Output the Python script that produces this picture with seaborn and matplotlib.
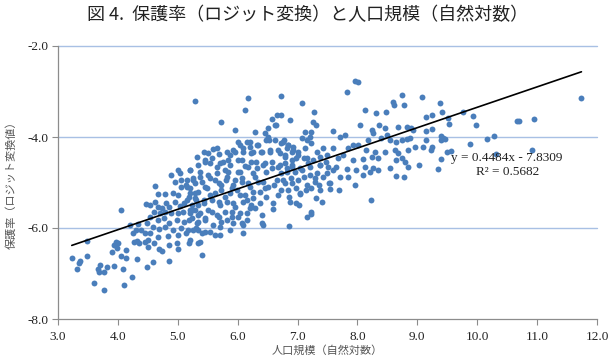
import numpy as np
import pandas as pd
import matplotlib.pyplot as plt
import seaborn as sns

# points (x = ln population, y = logit of protection rate), grouped by x band
band_3 = [(3.23, -6.67), (3.35, -6.77), (3.37, -6.72), (3.32, -6.91), (3.49, -6.29), (3.49, -6.61),
          (3.60, -7.21), (3.66, -6.91), (3.68, -6.96), (3.70, -6.81), (3.77, -6.97), (3.82, -6.86),
          (3.77, -7.36), (3.90, -6.52), (3.93, -6.83), (3.97, -6.30), (3.93, -6.37), (3.99, -6.45)]
band_4 = [(4.01, -6.34), (4.05, -5.61), (4.06, -6.62), (4.09, -6.90), (4.11, -7.25), (4.14, -6.65),
          (4.14, -6.48), (4.20, -5.93), (4.24, -7.07), (4.25, -6.12), (4.27, -6.30), (4.31, -6.04),
          (4.32, -6.29), (4.32, -6.69), (4.34, -5.91), (4.36, -6.32), (4.38, -6.04), (4.45, -6.10),
          (4.45, -6.30), (4.47, -5.47), (4.49, -5.88), (4.49, -6.86)]
band_4h = [(4.50, -6.41), (4.51, -6.26), (4.53, -5.49), (4.53, -5.75), (4.53, -6.12), (4.59, -5.97),
           (4.59, -6.74), (4.61, -5.64), (4.61, -6.34), (4.62, -5.08), (4.62, -5.42), (4.67, -5.25),
           (4.67, -5.53), (4.67, -5.82), (4.67, -6.19), (4.68, -6.47), (4.69, -6.03), (4.70, -5.68),
           (4.73, -5.57), (4.73, -6.50), (4.77, -5.79), (4.78, -5.64), (4.78, -5.97), (4.79, -5.25),
           (4.81, -5.46), (4.84, -6.18), (4.85, -6.37), (4.86, -5.53), (4.86, -5.88), (4.86, -6.72),
           (4.89, -5.68), (4.89, -4.83), (4.92, -5.24), (4.92, -6.04), (4.95, -5.42), (4.96, -4.98),
           (4.98, -5.82), (4.99, -6.32)]
band_5 = [(5.00, -5.27), (5.00, -5.66), (5.00, -6.15), (5.01, -4.73), (5.01, -6.47), (5.03, -5.52),
          (5.04, -4.80), (5.06, -5.09), (5.06, -4.94), (5.06, -6.01), (5.09, -5.64), (5.10, -5.86),
          (5.11, -5.46), (5.14, -5.06), (5.14, -6.12), (5.17, -6.04), (5.20, -5.24), (5.20, -5.68),
          (5.23, -5.49), (5.23, -5.79), (5.28, -5.02), (5.28, -5.61), (5.31, -5.39), (5.31, -6.01),
          (5.29, -3.20), (5.44, -4.32), (5.20, -4.73), (5.34, -4.62), (5.45, -4.51), (5.15, -5.09),
          (5.26, -4.95), (5.37, -4.87), (5.45, -5.09), (5.18, -5.31), (5.29, -5.24), (5.43, -5.38),
          (5.34, -5.49), (5.20, -5.60), (5.34, -5.71), (5.45, -5.79), (5.34, -5.86), (5.18, -6.34),
          (5.37, -6.30), (5.45, -6.08), (5.40, -6.59), (5.34, -6.04),
          (5.32, -4.43), (5.45, -4.54), (5.20, -4.72), (5.37, -4.76), (5.15, -4.94), (5.26, -4.91),
          (5.40, -4.98), (5.20, -5.13), (5.34, -5.20), (5.48, -5.13), (5.15, -5.38), (5.29, -5.35),
          (5.43, -5.46), (5.23, -5.60), (5.37, -5.68), (5.18, -5.82), (5.32, -5.90), (5.45, -5.82),
          (5.26, -6.04), (5.40, -6.12), (5.20, -6.26), (5.34, -6.34)]
band_5h = [(5.51, -4.84), (5.54, -4.58), (5.54, -5.27), (5.57, -5.64), (5.59, -4.27), (5.62, -4.95),
           (5.62, -6.15), (5.65, -4.65), (5.68, -4.37), (5.68, -5.42), (5.68, -5.75), (5.70, -5.97),
           (5.73, -3.66), (5.73, -5.06), (5.76, -4.54), (5.79, -5.31), (5.82, -4.89), (5.82, -5.82),
           (5.84, -4.76), (5.87, -4.40), (5.87, -4.62), (5.90, -5.13), (5.90, -5.64), (5.93, -5.46),
           (5.93, -5.90), (5.95, -3.85), (5.95, -4.32), (5.95, -4.95),
           (5.51, -4.36), (5.65, -4.25), (5.82, -4.32), (5.93, -4.29), (5.57, -4.47), (5.70, -4.58),
           (5.84, -4.50), (5.65, -4.80), (5.79, -4.72), (5.54, -4.91), (5.68, -5.02), (5.80, -4.94),
           (5.93, -5.05), (5.62, -5.24), (5.73, -5.16), (5.87, -5.24), (5.99, -5.16), (5.57, -5.38),
           (5.70, -5.49), (5.82, -5.42), (5.96, -5.53), (5.51, -5.60), (5.65, -5.71), (5.79, -5.64),
           (5.90, -5.75), (5.59, -5.93), (5.73, -5.86), (5.54, -6.08), (5.70, -6.15), (5.87, -6.04)]
band_6 = [(6.01, -4.10), (6.01, -4.51), (6.01, -5.75), (6.04, -4.18), (6.04, -4.76), (6.04, -5.27),
          (6.07, -4.91), (6.09, -4.32), (6.09, -5.93), (6.09, -6.12), (6.12, -3.41), (6.12, -4.64),
          (6.15, -4.10), (6.15, -5.38), (6.15, -5.68), (6.18, -3.15), (6.18, -5.02), (6.21, -4.21),
          (6.23, -4.54), (6.23, -5.49), (6.26, -4.32), (6.26, -5.35), (6.29, -3.88), (6.29, -4.87),
          (6.29, -5.57), (6.32, -4.69), (6.34, -4.18), (6.37, -5.20), (6.39, -4.34), (6.40, -5.90),
          (6.43, -4.98), (6.46, -3.92), (6.46, -4.58), (6.48, -4.07), (6.48, -5.31),
          (6.21, -4.10), (6.32, -4.18), (6.09, -4.25), (6.23, -4.36), (6.40, -4.32), (6.07, -4.50),
          (6.18, -4.65), (6.31, -4.54), (6.43, -4.62), (6.01, -4.76), (6.26, -4.80), (6.07, -4.98),
          (6.21, -5.09), (6.34, -4.98), (6.46, -5.13), (6.12, -5.27), (6.26, -5.20), (6.09, -5.42),
          (6.21, -5.57), (6.37, -5.46), (6.04, -5.68), (6.15, -5.82), (6.40, -5.71), (6.07, -5.90),
          (6.43, -5.93)]
band_6h = [(6.50, -3.99), (6.51, -5.09), (6.54, -4.32), (6.57, -4.69), (6.58, -3.61), (6.59, -5.46),
           (6.59, -5.59), (6.62, -4.07), (6.63, -3.74), (6.65, -3.52), (6.65, -4.95), (6.68, -4.29),
           (6.68, -5.27), (6.71, -4.62), (6.72, -3.10), (6.73, -3.52), (6.78, -4.07), (6.79, -4.40),
           (6.79, -5.02), (6.82, -4.76), (6.84, -4.18), (6.85, -5.31), (6.85, -5.96), (6.87, -3.63),
           (6.89, -4.91), (6.90, -4.32), (6.91, -4.65), (6.93, -4.21), (6.98, -4.47), (6.90, -4.61),
           (6.90, -5.02), (6.98, -5.13), (6.98, -5.44), (6.87, -5.42),
           (6.51, -3.81), (6.64, -3.74), (6.53, -4.07), (6.73, -4.14), (6.54, -4.29), (6.71, -4.36),
           (6.82, -4.25), (6.57, -4.54), (6.68, -4.65), (6.79, -4.58), (6.48, -4.76), (6.73, -4.80),
           (6.60, -5.05), (6.73, -5.16), (6.76, -4.10), (6.84, -4.18), (6.79, -4.43), (6.82, -4.69),
           (6.96, -4.76), (6.76, -4.94), (6.84, -5.16), (6.93, -4.29), (6.90, -4.50)]
band_7 = [(7.01, -4.32), (7.03, -5.49), (7.04, -4.69), (7.04, -5.25), (7.07, -4.03), (7.08, -3.26),
          (7.10, -4.87), (7.12, -3.90), (7.12, -4.25), (7.14, -5.16), (7.15, -4.07), (7.15, -4.47),
          (7.16, -5.76), (7.21, -4.00), (7.21, -4.65), (7.22, -5.11), (7.22, -5.64), (7.23, -3.88),
          (7.23, -4.14), (7.23, -5.69), (7.26, -3.68), (7.27, -3.46), (7.29, -4.91), (7.31, -3.74),
          (7.31, -5.35), (7.32, -4.32), (7.35, -5.05), (7.37, -4.45), (7.37, -4.61), (7.40, -5.42),
          (7.43, -4.25), (7.49, -4.39), (7.49, -4.80),
          (7.01, -4.40), (7.10, -4.47), (7.18, -4.58), (7.26, -4.50), (7.37, -4.61), (7.48, -4.54),
          (7.07, -4.73), (7.21, -4.83), (7.32, -4.80), (7.43, -4.87), (7.01, -4.94), (7.15, -5.05),
          (7.29, -4.98), (7.04, -5.24), (7.37, -5.16)]
band_7h = [(7.51, -4.65), (7.53, -5.02), (7.54, -5.15), (7.59, -3.87), (7.59, -4.25), (7.65, -4.65),
           (7.68, -4.47), (7.70, -5.16), (7.71, -3.99), (7.71, -4.87), (7.76, -4.39), (7.79, -3.96),
           (7.82, -4.71), (7.83, -3.02), (7.85, -4.25), (7.85, -4.87), (7.93, -4.18), (7.93, -4.50),
           (7.96, -2.76), (7.96, -5.05), (7.98, -4.72), (7.60, -4.73), (7.54, -5.02)]
band_8 = [(8.01, -2.80), (8.01, -4.18), (8.05, -3.74), (8.10, -4.49), (8.10, -4.83), (8.13, -3.41),
          (8.13, -4.65), (8.15, -4.28), (8.18, -4.07), (8.21, -4.76), (8.23, -5.38), (8.24, -4.43),
          (8.25, -3.85), (8.26, -3.92), (8.26, -4.69), (8.29, -4.32), (8.31, -3.48), (8.35, -4.47),
          (8.35, -4.72), (8.36, -3.74), (8.39, -4.03), (8.46, -3.81), (8.46, -4.32), (8.48, -3.46),
          (8.49, -3.96)]
band_8h = [(8.54, -4.07), (8.54, -4.69), (8.60, -3.22), (8.61, -3.30), (8.63, -4.28), (8.64, -4.86),
           (8.65, -4.10), (8.65, -4.50), (8.68, -3.77), (8.68, -4.36), (8.74, -3.08), (8.74, -4.06),
           (8.74, -4.47), (8.77, -4.89), (8.78, -3.30), (8.79, -4.54), (8.82, -3.77), (8.82, -4.05),
           (8.85, -4.28), (8.85, -4.65), (8.88, -4.03), (8.89, -3.81), (8.92, -3.85), (8.96, -4.21)]
band_9 = [(9.03, -4.61), (9.07, -3.13), (9.10, -4.23), (9.14, -3.57), (9.15, -3.87), (9.15, -4.06),
          (9.23, -4.28), (9.24, -3.52), (9.24, -3.83), (9.25, -4.21), (9.34, -4.71), (9.38, -3.26),
          (9.39, -3.98), (9.40, -4.06), (9.40, -4.49), (9.41, -3.44), (9.43, -4.03), (9.46, -4.05),
          (9.49, -4.32), (9.52, -3.59), (9.53, -3.71), (9.56, -4.30), (9.77, -3.46), (9.88, -4.15),
          (9.93, -3.54), (9.98, -3.74)]
band_10 = [(10.16, -4.04), (10.28, -3.97), (10.32, -4.38), (10.66, -3.64), (10.70, -3.65),
           (10.92, -4.28), (10.95, -3.61), (11.74, -3.15)]

# Excel linear trendline shown on the chart
slope = 0.4484
intercept = -7.8309
r2 = 0.5682

x_ticks = [3.0, 4.0, 5.0, 6.0, 7.0, 8.0, 9.0, 10.0, 11.0, 12.0]
y_ticks = [-8.0, -6.0, -4.0, -2.0]

bands = [band_3, band_4, band_4h, band_5, band_5h, band_6, band_6h, band_7, band_7h,
         band_8, band_8h, band_9, band_10]
df = pd.DataFrame([p for b in bands for p in b], columns=['log_pop', 'logit_rate'])

sns.set_theme(style='white')
plt.rcParams['font.family'] = ['Liberation Serif', 'Noto Sans CJK JP']
plt.rcParams['axes.unicode_minus'] = False

fig = plt.figure(figsize=(6.16, 3.64), dpi=100)
ax = fig.add_axes([58 / 616, 1 - 319 / 364, 539 / 616, 273 / 364])

grid_c = '#a8c0e4'
axis_c = '#8c8c8c'
for yv in y_ticks[1:]:
    ax.axhline(yv, color=grid_c, lw=1.0, zorder=0, clip_on=False)

sns.scatterplot(data=df, x='log_pop', y='logit_rate', ax=ax, color='#4a7ebb',
                s=18, linewidth=0, zorder=2)

# trendline across the data range
xl = np.array([df['log_pop'].min(), df['log_pop'].max()])
ax.plot(xl, intercept + slope * xl, color='black', lw=1.2, zorder=3)

ax.text(10.5, -4.62, f'y = {slope}x - {abs(intercept)}\nR² = {r2}', ha='center', va='center',
        multialignment='center', fontsize=9.5, linespacing=1.25,
        family=['Liberation Serif', 'DejaVu Serif'], color='#222222')

ax.set_xlim(3, 12)
ax.set_ylim(-8, -2)
ax.set_xticks(x_ticks)
ax.set_yticks(y_ticks)
ax.set_xticklabels([f'{v:.1f}' for v in x_ticks])
ax.set_yticklabels([f'{v:.1f}' for v in y_ticks])
ax.tick_params(axis='both', which='both', direction='out', length=4, width=0.8,
               color=axis_c, labelsize=9.5, labelcolor='#222222', pad=3,
               bottom=True, left=True)
ax.tick_params(axis='x', pad=5)
for s in ['top', 'right']:
    ax.spines[s].set_visible(False)
for s in ['left', 'bottom']:
    ax.spines[s].set_color(axis_c)
    ax.spines[s].set_linewidth(0.9)

ax.set_xlabel('人口規模（自然対数）', fontsize=8, color='#555555',
              family=['Noto Sans CJK JP'], labelpad=1)
ax.set_ylabel('保護率（ロジット変換値）', fontsize=8, color='#555555',
              family=['Noto Sans CJK JP'], labelpad=8)

fig.text(0.5, 1 - 15 / 364, '図 4.  保護率（ロジット変換）と人口規模（自然対数）',
         ha='center', va='center', fontsize=13, color='#222222',
         family=['Noto Sans CJK JP', 'DejaVu Sans'])

fig.savefig('out.png', dpi=100)
